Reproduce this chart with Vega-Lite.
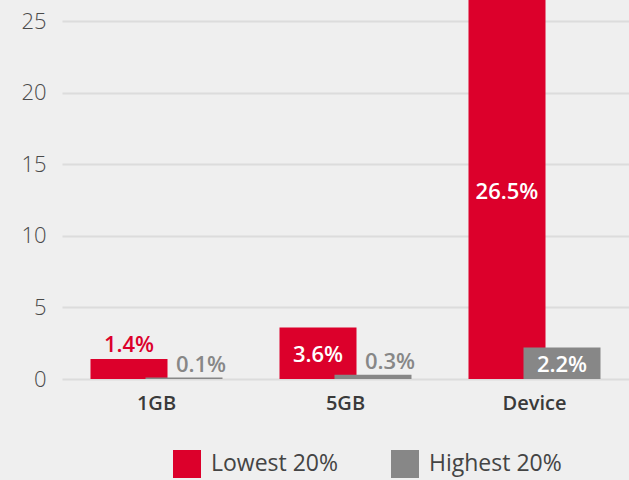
{
  "$schema": "https://vega.github.io/schema/vega-lite/v6.json",
  "width": 561,
  "height": 379,
  "autosize": "none",
  "padding": {"left": 68, "top": 0, "right": 0, "bottom": 101},
  "background": "#efefef",
  "config": {
    "view": {"stroke": null},
    "font": "Open Sans"
  },
  "data": {
    "values": [
      {"category": "1GB", "group": "Lowest 20%", "value": 1.4, "label": "1.4%"},
      {"category": "5GB", "group": "Lowest 20%", "value": 3.6, "label": "3.6%"},
      {"category": "Device", "group": "Lowest 20%", "value": 26.5, "label": "26.5%"},
      {"category": "1GB", "group": "Highest 20%", "value": 0.1, "label": "0.1%"},
      {"category": "5GB", "group": "Highest 20%", "value": 0.3, "label": "0.3%"},
      {"category": "Device", "group": "Highest 20%", "value": 2.2, "label": "2.2%"}
    ]
  },
  "encoding": {
    "x": {
      "field": "category", "type": "nominal", "sort": ["1GB", "5GB", "Device"],
      "scale": {"range": [-6, 561], "paddingInner": 0, "paddingOuter": 0},
      "axis": {"title": null, "labelAngle": 0, "domain": false, "ticks": false, "labelPadding": 14, "labelFontSize": 20, "labelFontWeight": 600, "labelColor": "#3a3a3a"}
    },
    "xOffset": {
      "field": "group", "type": "nominal", "sort": ["Lowest 20%", "Highest 20%"],
      "scale": {"range": [39.5, 149.5], "paddingInner": 0, "paddingOuter": 0}
    }
  },
  "layer": [
    {
      "layer": [
        {
          "mark": {"type": "bar", "width": 77},
          "encoding": {
            "y": {
              "field": "value", "type": "quantitative",
              "scale": {"domain": [0, 26.5], "nice": false},
              "axis": {"title": null, "values": [0, 5, 10, 15, 20, 25], "domain": false, "ticks": false, "labelPadding": 22, "labelFontSize": 22, "labelFontWeight": 300, "labelColor": "#4a4a4a", "gridColor": "#dcdcdc", "gridWidth": 2}
            },
            "color": {
              "field": "group", "type": "nominal",
              "scale": {"domain": ["Lowest 20%", "Highest 20%"], "range": ["#dc002b", "#878787"]},
              "legend": {"title": null, "orient": "none", "legendX": 105, "legendY": 450, "direction": "horizontal", "symbolType": "square", "symbolSize": 784, "symbolStrokeWidth": 0, "labelFontSize": 23, "labelColor": "#444444", "labelOffset": 10, "columnPadding": 52}
            }
          }
        },
        {
          "transform": [{"filter": "datum.value < 2 && datum.group == 'Lowest 20%'"}],
          "mark": {"type": "text", "baseline": "alphabetic", "dy": -7, "fontSize": 22, "fontWeight": 600},
          "encoding": {
            "y": {"field": "value", "type": "quantitative"},
            "text": {"field": "label"},
            "color": {"field": "group", "type": "nominal", "legend": null}
          }
        },
        {
          "transform": [{"filter": "datum.value < 2 && datum.group == 'Highest 20%'"}],
          "mark": {"type": "text", "baseline": "alphabetic", "dy": -6, "dx": 17, "fontSize": 22, "fontWeight": 600},
          "encoding": {
            "y": {"field": "value", "type": "quantitative"},
            "text": {"field": "label"},
            "color": {"field": "group", "type": "nominal", "legend": null}
          }
        }
      ]
    },
    {
      "transform": [{"filter": "datum.value >= 2"}],
      "mark": {"type": "text", "baseline": "middle", "fontSize": 22, "fontWeight": 600, "color": "white", "dy": 2},
      "encoding": {
        "y": {"field": "value", "type": "quantitative", "scale": {"domain": [0, 53], "nice": false}, "axis": null},
        "text": {"field": "label"}
      }
    }
  ],
  "resolve": {"scale": {"y": "independent"}}
}
